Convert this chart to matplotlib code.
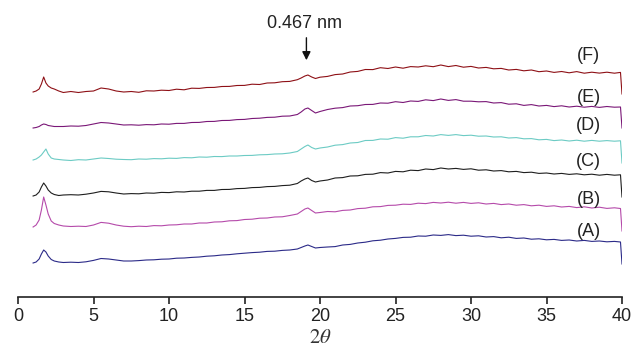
import matplotlib
matplotlib.use("Agg")
import matplotlib.pyplot as plt

plt.rcParams['font.family'] = ['Liberation Sans', 'DejaVu Sans']
plt.rcParams['mathtext.fontset'] = 'stix'

# 2-theta sampling points (degrees)
two_theta = [1.0, 1.2, 1.4, 1.55, 1.7, 1.85, 2.0, 2.2, 2.4, 2.7,
             3.0, 3.5, 4.0, 4.5, 5.0, 5.5, 6.0, 6.5, 7.0, 7.5, 8.0, 8.5,
             9.0, 9.5, 10.0, 10.5, 11.0, 11.5, 12.0, 12.5, 13.0, 13.5,
             14.0, 14.5, 15.0, 15.5, 16.0, 16.5, 17.0, 17.5, 18.0, 18.5,
             18.75, 19.0, 19.2, 19.45, 19.7, 20.0,
             20.5, 21.0, 21.5, 22.0, 22.5, 23.0, 23.5, 24.0, 24.5, 25.0,
             25.5, 26.0, 26.5, 27.0, 27.5, 28.0, 28.5, 29.0, 29.5, 30.0,
             30.5, 31.0, 31.5, 32.0, 32.5, 33.0, 33.5, 34.0, 34.5, 35.0,
             35.5, 36.0, 36.5, 37.0, 37.5, 38.0, 38.5, 39.0, 39.5,
             39.9, 40.0]

# intensities (arbitrary units, relative to each pattern's start)
int_a = [0, 1, 4, 9, 13, 11, 7, 3.5, 2, 1,
         0.5, 0.8, 0.5, 1.2, 2.6, 4.5, 4, 3, 2, 2, 2.4, 3,
         3.2, 3.8, 4, 4.8, 5, 5.6, 6, 6.8, 7.2, 8,
         8.4, 9.2, 9.8, 10.4, 10.8, 11.6, 11.8, 12.6, 13, 14,
         15.5, 17, 18, 16.5, 15, 15.5,
         16, 16.4, 18, 18.6, 20, 20.8, 22.2, 22.8, 24, 24.6,
         25.6, 25.8, 27, 26.8, 28, 27.6, 28.4, 27.4, 27.8, 26.8,
         27.2, 26, 26.4, 25.2, 25.8, 24.6, 25, 23.8, 24.2, 23.2,
         23.6, 22.6, 23, 22, 22.6, 21.6, 22, 21.2, 21.6,
         21, -1]
int_b = [0, 2, 7, 17, 30, 22, 13, 6, 3.5, 2,
         1, 0.5, 0.8, 0.5, 2, 4.6, 3.8, 2, 0.8, 0.3, 0.8, 0.5,
         1.4, 1.2, 2, 2.2, 3, 3, 4, 4, 5, 5.2,
         6.2, 6.4, 7.5, 7.8, 8.8, 9, 10, 10.2, 11.5, 13,
         15.5, 18, 19, 16.5, 14, 14.5,
         15.5, 15.2, 16.6, 17, 18.4, 18.8, 20.2, 20.4, 21.6, 21.8,
         22.8, 22.6, 23.8, 23.4, 24.6, 24, 24.8, 23.8, 24.6, 23.6,
         24.2, 23, 23.6, 22.4, 23, 21.8, 22.4, 21.2, 21.8, 20.6,
         21.2, 20, 20.6, 19.4, 20.2, 19, 19.8, 18.6, 19.2,
         18.5, -4]
int_c = [0, 1, 4, 9, 13, 10, 6, 3, 1.5, 0.5,
         1, 1.3, 1, 1.8, 3, 4.6, 4.2, 3, 2, 2.4, 2.2, 3,
         2.8, 3.6, 3.4, 4.2, 4, 4.8, 4.8, 5.6, 5.6, 6.5,
         6.6, 7.4, 7.6, 8.4, 8.6, 9.4, 9.6, 10.4, 10.8, 12.5,
         15, 17, 18, 15.5, 14, 15,
         16, 18, 18.4, 20, 20.2, 21.6, 21.8, 23.4, 23, 24.6,
         24.2, 25.8, 25.4, 27, 26.4, 28, 27, 27.6, 26.6, 27.2,
         25.8, 26.2, 25, 25.4, 24.2, 24.6, 23.4, 23.8, 22.6, 23,
         22, 22.6, 21.6, 22.2, 21.2, 21.8, 20.8, 21.6, 20.8,
         21.2, -1]
int_d = [0, 1, 3, 5, 8, 11, 6, 2, 1, 0.5,
         0, -0.5, 0.3, 0, 1, 2, 1.5, 0.8, 0.5, 0.3, 1, 0.8,
         1.4, 1.2, 1.8, 1.6, 2.4, 2.2, 3, 2.8, 3.5, 3.4,
         4, 4, 4.5, 4.6, 5.2, 5.4, 6, 6.2, 7, 8.5,
         11, 13.5, 15, 12.5, 11, 12,
         13, 14.8, 15.4, 17, 17.5, 19.5, 19.6, 21, 20.8, 22.4,
         21.8, 23.2, 23.2, 24.5, 24, 25.4, 24.6, 25.4, 24.4, 24.8,
         23.8, 24, 23, 23.2, 22, 22.4, 21.2, 21.4, 20.2, 20.6,
         19.4, 20, 19, 19.8, 18.8, 19.6, 18.8, 19.4, 18.8,
         19.2, -3]
int_e = [0, 0.5, 1.5, 3, 4, 3.5, 2.5, 2, 1.5, 1.5,
         1.5, 2, 1.8, 2.5, 4, 5.5, 5, 4, 3, 3.2, 2.8, 3.4,
         3.2, 4, 3.8, 4.6, 4.6, 5.5, 5.6, 6.5, 6.6, 7.5,
         7.6, 8.4, 8.6, 9.5, 9.8, 10.6, 10.8, 11.8, 12, 13.5,
         16, 19, 20, 17.5, 15, 16.5,
         18.5, 19.8, 20.4, 22, 22.3, 23.5, 23.6, 25, 24.8, 26.3,
         25.5, 27, 26.6, 28.2, 27.4, 29, 27.6, 28.4, 26.8, 26.8,
         26.2, 26.4, 25, 25.4, 23.8, 24.2, 22.6, 23.4, 22, 22.6,
         21.4, 22.2, 21, 21.8, 20.8, 21.6, 20.6, 21.5, 20.8,
         21, 0]
int_f = [0, 1, 3, 8, 15, 9, 6, 4, 3, 1,
         -0.5, 0.5, -0.5, 0.5, 1, 4, 3, 1, 0, 0.5, -0.3, 1.2,
         1, 1.8, 1.5, 2.8, 2.2, 3.8, 3.6, 4.5, 4.6, 5.5,
         5.6, 6.5, 6.6, 7.8, 7.5, 9, 9.2, 10.3, 10.6, 12.3,
         14, 16, 17, 15, 13.5, 14.8,
         15.6, 17.4, 18, 20, 20.6, 22.5, 22.4, 24.3, 23.5, 25,
         23.8, 25.4, 25, 26.2, 25.3, 27, 25.4, 26.5, 24.8, 25.6,
         24, 24.6, 23.2, 23.6, 22, 22.6, 21.2, 22, 20.3, 21,
         19.6, 20.5, 19.2, 20.4, 18.8, 19.8, 18.9, 19.8, 18.8,
         19.6, -2]

labels = ['(A)', '(B)', '(C)', '(D)', '(E)', '(F)']
series = [int_a, int_b, int_c, int_d, int_e, int_f]
colors = ['#2b2a88', '#b54aaa', '#1e1e1e', '#6ccbc4', '#7a1777', '#8e1016']

# vertical stacking offsets and label heights
offsets = [34, 70, 101, 137, 169, 205]
label_y = [66, 98, 136, 171, 199, 242]

fig = plt.figure(figsize=(6.35, 3.49), dpi=100)
ax = fig.add_axes([18 / 635, 52 / 349, 604 / 635, 297 / 349])

for vals, off, col, lab, ly in zip(series, offsets, colors, labels, label_y):
    ax.plot(two_theta, [v + off for v in vals], color=col, lw=0.8)
    ax.text(37.8, ly, lab, ha='center', va='center', fontsize=13, color='#222222')

ax.annotate('', xy=(19.1, 234), xytext=(19.1, 262),
            arrowprops=dict(arrowstyle='-|>,head_width=0.25,head_length=0.5',
                            color='#111111', lw=1))
ax.text(19.0, 273, '0.467 nm', ha='center', va='center', fontsize=13, color='#222222')

ax.set_xlim(0, 40)
ax.set_ylim(0, 297)
ax.set_xticks(range(0, 41, 5))
ax.set_yticks([])
for s in ['top', 'right', 'left']:
    ax.spines[s].set_visible(False)
ax.spines['bottom'].set_linewidth(1.2)
ax.spines['bottom'].set_color('#222222')
ax.tick_params(axis='x', direction='out', length=5, width=1.2, labelsize=13,
               colors='#222222', pad=3)
ax.set_xlabel(r'$2\theta$', fontsize=15, labelpad=2, color='#333333')

fig.savefig('out.png', dpi=100)
